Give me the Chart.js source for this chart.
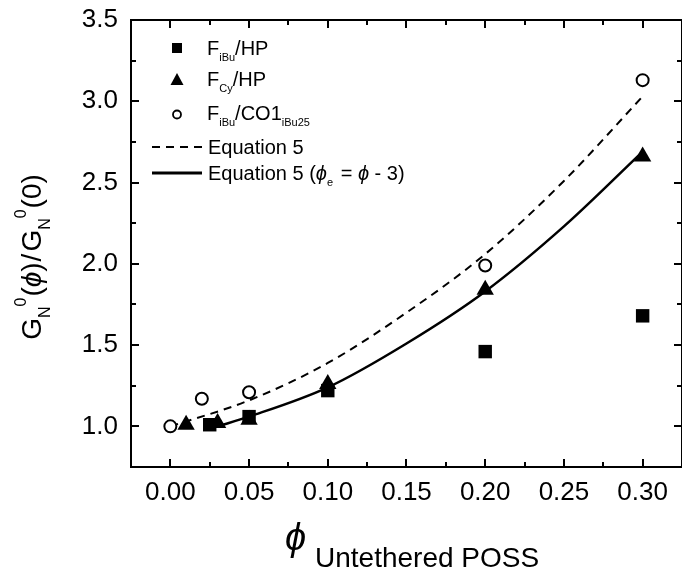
<!DOCTYPE html>
<html lang="en">
<head>
<meta charset="UTF-8">
<title>G_N0 vs untethered POSS</title>
<script src="https://cdn.jsdelivr.net/npm/chart.js"></script>
<style>
  html, body { margin: 0; padding: 0; background: #fff; overflow: hidden; }
</style>
</head>
<body>
<canvas id="chart" width="692" height="575"></canvas>
<script>
// values
const phiIBuHP = [0.025, 0.05, 0.10, 0.20, 0.30];
const gIBuHP   = [1.01, 1.06, 1.22, 1.46, 1.68];
const phiCyHP  = [0.01, 0.03, 0.05, 0.10, 0.20, 0.30];
const gCyHP    = [1.01, 1.02, 1.04, 1.26, 1.84, 2.66];
const phiIBuCO = [0.00, 0.02, 0.05, 0.20, 0.30];
const gIBuCO   = [1.00, 1.17, 1.21, 1.99, 3.13];
// Equation 5 curves
const phiEq5   = [0.00, 0.05, 0.10, 0.15, 0.20, 0.25, 0.30];
const gEq5     = [1.00, 1.16, 1.39, 1.70, 2.06, 2.51, 3.03];
const phiEq5e  = [0.03, 0.05, 0.10, 0.15, 0.20, 0.25, 0.30];
const gEq5e    = [1.00, 1.06, 1.24, 1.51, 1.83, 2.23, 2.69];
// axis ticks
const xTicks = [0.00, 0.05, 0.10, 0.15, 0.20, 0.25, 0.30];
const yTicks = [1.0, 1.5, 2.0, 2.5, 3.0, 3.5];

const FONT = '"Liberation Sans", Arial, "DejaVu Sans", sans-serif';
const pts = (xs, ys) => xs.map((v, i) => ({ x: v, y: ys[i] }));

// text with sub/superscripts, returns end x
function rich(ctx, parts, x, y) {
    parts.forEach(p => {
        ctx.font = (p.it ? 'italic ' : '') + p.s + 'px ' + FONT;
        ctx.fillText(p.t, x, y + (p.dy || 0));
        x += ctx.measureText(p.t).width + (p.gap || 0);
    });
    return x;
}
function richWidth(ctx, parts) {
    let w = 0;
    parts.forEach(p => {
        ctx.font = (p.it ? 'italic ' : '') + p.s + 'px ' + FONT;
        w += ctx.measureText(p.t).width + (p.gap || 0);
    });
    return w;
}

// frame with inward ticks on all four sides (filled rects, crisp)
function drawFrame(chart) {
    const ctx = chart.ctx;
    const a = chart.chartArea;
    const x = chart.scales.x, y = chart.scales.y;
    ctx.save();
    ctx.fillStyle = '#000';
    const L = Math.round(a.left), R = Math.round(a.right);
    const T = Math.round(a.top), B = Math.round(a.bottom);
    ctx.fillRect(L - 1, T - 1, R - L + 2, 2);   // top
    ctx.fillRect(L - 1, B - 1, R - L + 2, 2);   // bottom
    ctx.fillRect(L - 1, T - 1, 2, B - T + 2);   // left
    ctx.fillRect(R - 1, T - 1, 2, B - T + 2);   // right
    const vt = (px, len) => {
        px = Math.round(px);
        ctx.fillRect(px - 1, B - len, 2, len);
        ctx.fillRect(px - 1, T, 2, len);
    };
    const ht = (py, len) => {
        py = Math.round(py);
        ctx.fillRect(L, py - 1, len, 2);
        ctx.fillRect(R - len, py - 1, len, 2);
    };
    xTicks.forEach((v, i) => {
        vt(x.getPixelForValue(v), 8);
        if (i < xTicks.length - 1) vt(x.getPixelForValue((v + xTicks[i + 1]) / 2), 5);
    });
    yTicks.forEach((v, i) => {
        ht(y.getPixelForValue(v), 8);
        if (i < yTicks.length - 1) ht(y.getPixelForValue((v + yTicks[i + 1]) / 2), 5);
    });
    ctx.restore();
}

// legend + axis titles (need sub/superscripts)
function drawLabels(chart) {
    const ctx = chart.ctx;
    ctx.save();
    ctx.fillStyle = '#000';
    ctx.strokeStyle = '#000';
    ctx.textBaseline = 'alphabetic';
    ctx.textAlign = 'left';

    const mx = 177, tx = 207;
    // square
    ctx.fillRect(mx - 5, 48 - 5, 10, 10);
    rich(ctx, [{ t: 'F', s: 20 }, { t: 'iBu', s: 11, dy: 6 }, { t: '/HP', s: 20 }], tx, 55);
    // triangle
    ctx.beginPath();
    ctx.moveTo(mx, 80 - 7); ctx.lineTo(mx + 6.5, 80 + 5); ctx.lineTo(mx - 6.5, 80 + 5);
    ctx.closePath(); ctx.fill();
    rich(ctx, [{ t: 'F', s: 20 }, { t: 'Cy', s: 11, dy: 6 }, { t: '/HP', s: 20 }], tx, 86);
    // open circle
    ctx.lineWidth = 1.8;
    ctx.beginPath(); ctx.arc(mx, 114.5, 4, 0, Math.PI * 2); ctx.stroke();
    rich(ctx, [{ t: 'F', s: 20 }, { t: 'iBu', s: 11, dy: 6 }, { t: '/CO1', s: 20 }, { t: 'iBu25', s: 11, dy: 6 }], tx, 120);
    // dashed
    ctx.lineWidth = 2;
    ctx.setLineDash([8, 6]);
    ctx.beginPath(); ctx.moveTo(152, 147); ctx.lineTo(202, 147); ctx.stroke();
    ctx.setLineDash([]);
    rich(ctx, [{ t: 'Equation 5', s: 20 }], 208, 154);
    // solid
    ctx.lineWidth = 3;
    ctx.beginPath(); ctx.moveTo(152, 173); ctx.lineTo(202, 173); ctx.stroke();
    rich(ctx, [{ t: 'Equation 5 (', s: 20 }, { t: 'ϕ', s: 20, it: true }, { t: 'e', s: 11, dy: 6, gap: 2 },
               { t: ' = ', s: 20 }, { t: 'ϕ', s: 20, it: true }, { t: ' - 3)', s: 20 }], 208, 180);

    // x title
    rich(ctx, [{ t: 'ϕ', s: 38, it: true }], 285, 550);
    rich(ctx, [{ t: 'Untethered POSS', s: 28 }], 315, 567);

    // y title, rotated
    const yParts = [
        { t: 'G', s: 28 }, { t: 'N', s: 16, dy: 9 }, { t: '0', s: 16, dy: -15, gap: 1 },
        { t: '(', s: 28 }, { t: 'ϕ', s: 28, it: true }, { t: ')', s: 28, gap: 1 }, { t: '/', s: 28, gap: 2 },
        { t: 'G', s: 28 }, { t: 'N', s: 16, dy: 9 }, { t: '0', s: 16, dy: -15, gap: 1 },
        { t: '(0)', s: 28 }
    ];
    const w = richWidth(ctx, yParts);
    ctx.translate(41, 257);
    ctx.rotate(-Math.PI / 2);
    rich(ctx, yParts, -w / 2, 0);
    ctx.restore();
}

const decor = {
    id: 'decor',
    afterDraw(chart) {
        drawFrame(chart);
        drawLabels(chart);
    }
};

new Chart(document.getElementById('chart'), {
    type: 'scatter',
    data: {
        datasets: [
            {
                label: 'FiBu/HP', data: pts(phiIBuHP, gIBuHP),
                pointStyle: 'rect', pointRadius: 9.5, backgroundColor: '#000', borderWidth: 0
            },
            {
                label: 'FCy/HP', data: pts(phiCyHP, gCyHP),
                pointStyle: 'triangle', pointRadius: 10, backgroundColor: '#000', borderWidth: 0
            },
            {
                label: 'FiBu/CO1iBu25', data: pts(phiIBuCO, gIBuCO),
                pointStyle: 'circle', pointRadius: 6, backgroundColor: '#fff', borderColor: '#000', borderWidth: 2
            },
            {
                label: 'Equation 5', data: pts(phiEq5, gEq5), showLine: true, pointRadius: 0,
                borderColor: '#000', borderWidth: 2, borderDash: [8, 6], cubicInterpolationMode: 'monotone'
            },
            {
                label: 'Equation 5 (phi_e = phi - 3)', data: pts(phiEq5e, gEq5e), showLine: true, pointRadius: 0,
                borderColor: '#000', borderWidth: 2.5, cubicInterpolationMode: 'monotone'
            }
        ]
    },
    options: {
        responsive: false,
        animation: false,
        events: [],
        layout: { padding: { top: 20, right: 4, left: 0, bottom: 0 } },
        plugins: { legend: { display: false }, tooltip: { enabled: false } },
        scales: {
            x: {
                type: 'linear', min: -0.025, max: 0.325,
                grid: { display: false, drawTicks: false },
                border: { display: false },
                afterBuildTicks: s => { s.ticks = xTicks.map(v => ({ value: v })); },
                afterFit: s => { s.height = 108; s.paddingLeft = 0; s.paddingRight = 0; },
                ticks: {
                    padding: 10, color: '#000', maxRotation: 0,
                    font: { family: FONT, size: 26 },
                    callback: v => v.toFixed(2)
                }
            },
            y: {
                type: 'linear', min: 0.75, max: 3.5,
                grid: { display: false, drawTicks: false },
                border: { display: false },
                afterBuildTicks: s => { s.ticks = yTicks.map(v => ({ value: v })); },
                afterFit: s => { s.width = 131; s.paddingTop = 0; s.paddingBottom = 0; },
                ticks: {
                    padding: 13, color: '#000',
                    font: { family: FONT, size: 26 },
                    callback: v => v.toFixed(1)
                }
            }
        }
    },
    plugins: [decor]
});
</script>
</body>
</html>
